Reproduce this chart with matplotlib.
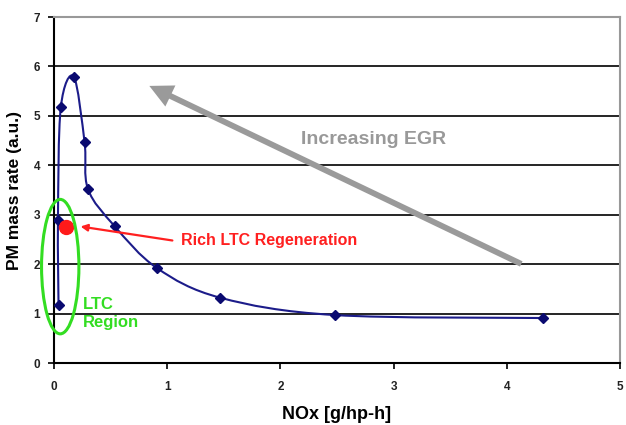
import numpy as np
import matplotlib
matplotlib.use('Agg')
from matplotlib import pyplot as plt
from matplotlib.path import Path
from matplotlib.patches import PathPatch, Ellipse, FancyArrowPatch

## DATA

nox = [0.04, 0.035, 0.06, 0.175, 0.27, 0.30, 0.535, 0.91, 1.47, 2.48, 4.32]
pm = [1.17, 2.9, 5.17, 5.79, 4.47, 3.52, 2.77, 1.92, 1.32, 0.97, 0.91]

regen_nox = [0.105]
regen_pm = [2.75]

x_ticks = [0, 1, 2, 3, 4, 5]
y_ticks = [0, 1, 2, 3, 4, 5, 6, 7]

## FUNCTION DECLARATION

def smooth_path(xs, ys):
    # excel-style smoothed line: catmull-rom segments drawn as cubic beziers
    pts = np.column_stack([xs, ys])
    verts = [pts[0]]
    codes = [Path.MOVETO]
    n = len(pts)
    for i in range(n - 1):
        p0 = pts[max(i - 1, 0)]
        p1 = pts[i]
        p2 = pts[i + 1]
        p3 = pts[min(i + 2, n - 1)]
        c1 = p1 + (p2 - p0) / 6.0
        c2 = p2 - (p3 - p1) / 6.0
        verts += [c1, c2, p2]
        codes += [Path.CURVE4] * 3
    return Path(verts, codes)

## MAIN

plt.rcParams['font.family'] = ['Liberation Sans', 'DejaVu Sans']
plt.rcParams['font.weight'] = 'bold'

fig = plt.figure(figsize=(6.26, 4.25), dpi=100)
ax = fig.add_axes([54 / 626, 62 / 425, 566 / 626, 346 / 425])

ax.set_xlim(0, 5)
ax.set_ylim(0, 7)
ax.set_xticks(x_ticks)
ax.set_yticks(y_ticks)
ax.tick_params(labelsize=8.5, length=4, width=1.2, colors='black', labelcolor='#222222')
ax.tick_params(axis='x', pad=9)
ax.tick_params(axis='y', pad=6)
for lbl in ax.get_xticklabels() + ax.get_yticklabels():
    lbl.set_fontweight('bold')

# horizontal grid
for yv in y_ticks[1:-1]:
    ax.axhline(yv, color='black', lw=1.2, zorder=1)

ax.spines['left'].set_linewidth(1.5)
ax.spines['bottom'].set_linewidth(1.5)
ax.spines['top'].set_color('#999999')
ax.spines['right'].set_color('#999999')
ax.spines['top'].set_linewidth(1.5)
ax.spines['right'].set_linewidth(1.5)

# smoothed curve + markers
ax.add_patch(PathPatch(smooth_path(nox, pm), fill=False, edgecolor='#1c1c8a', lw=1.5, zorder=3))
ax.plot(nox, pm, linestyle='none', marker='D', markersize=5.5, color='#0a0a70', zorder=4)

# rich LTC regeneration point
ax.plot(regen_nox, regen_pm, linestyle='none', marker='o', markersize=10, color='#ff1a1a', zorder=5)
ax.annotate('', xy=(0.21, 2.77), xytext=(1.07, 2.47),
            arrowprops=dict(arrowstyle='-|>', color='#ff2020', lw=1.6, mutation_scale=10), zorder=5)
ax.text(1.12, 2.47, 'Rich LTC Regeneration', color='#ff2020', fontsize=11.5, fontweight='bold',
        va='center', ha='left')

# LTC region
ax.add_patch(Ellipse((0.055, 1.95), 0.33, 2.72, fill=False, edgecolor='#33dd22', lw=2.2,
                     zorder=6, clip_on=False))
ax.text(0.255, 1.0, 'LTC\nRegion', color='#33dd22', fontsize=12, fontweight='bold',
        va='center', ha='left', linespacing=1.25)

# increasing EGR arrow
ax.add_patch(FancyArrowPatch((4.15, 1.98), (0.82, 5.63),
                             arrowstyle='simple,head_length=1.4,head_width=1.4,tail_width=0.35',
                             mutation_scale=12, color='#9a9a9a', lw=0, zorder=2))
ax.text(2.82, 4.53, 'Increasing EGR', color='#999999', fontsize=14, fontweight='bold',
        va='center', ha='center')

ax.set_xlabel('NOx [g/hp-h]', fontsize=13, fontweight='bold', labelpad=9)
ax.set_ylabel('PM mass rate (a.u.)', fontsize=12.5, fontweight='bold', labelpad=8)

fig.savefig('out.png', dpi=100)
